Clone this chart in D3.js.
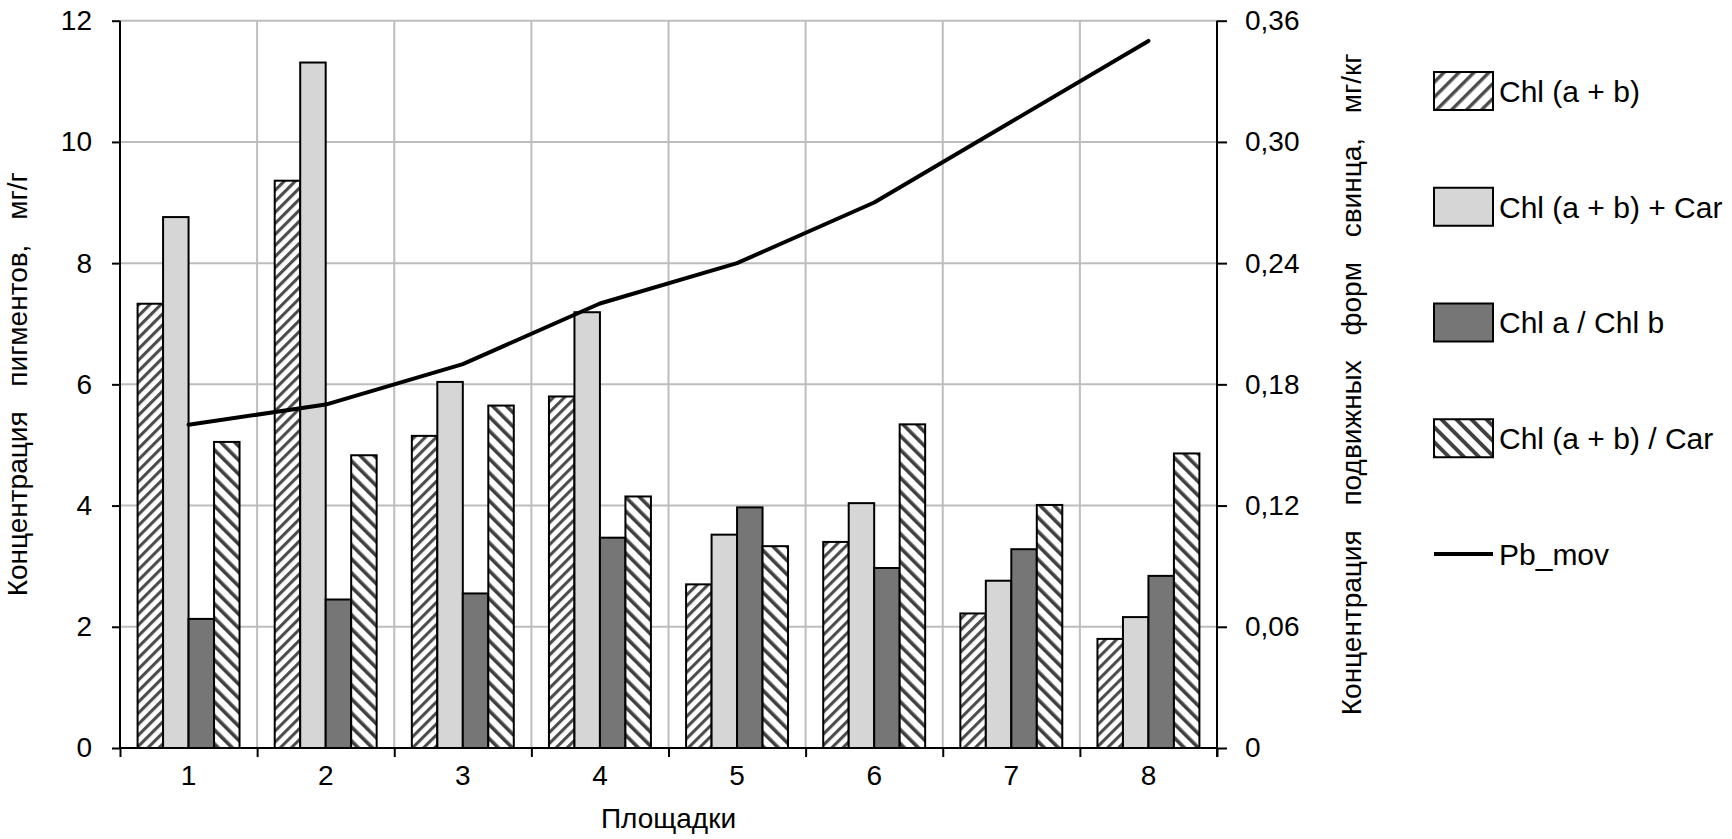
<!DOCTYPE html>
<html>
<head>
<meta charset="utf-8">
<script src="https://cdn.jsdelivr.net/npm/d3@7"></script>
<style>
  html, body { margin: 0; padding: 0; background: #fff; }
  svg { display: block; }
  text { font-family: "Liberation Sans", Arial, sans-serif; fill: #000; }
</style>
</head>
<body>
<svg id="chart" width="1732" height="839"></svg>
<script>
// ---- data ----
const categories = ["1", "2", "3", "4", "5", "6", "7", "8"];
const seriesNames = ["Chl (a + b)", "Chl (a + b) + Car", "Chl a / Chl b", "Chl (a + b) / Car"];
const chlAB      = [7.33, 9.36, 5.15, 5.80, 2.70, 3.40, 2.22, 1.80];
const chlABCar   = [8.76, 11.31, 6.04, 7.19, 3.52, 4.04, 2.76, 2.16];
const chlAtoB    = [2.13, 2.45, 2.55, 3.47, 3.97, 2.97, 3.28, 2.84];
const chlABtoCar = [5.05, 4.83, 5.65, 4.15, 3.33, 5.34, 4.01, 4.86];
const pbMov      = [0.16, 0.17, 0.19, 0.22, 0.24, 0.27, 0.31, 0.35];
const lineName = "Pb_mov";
const leftTicks = [0, 2, 4, 6, 8, 10, 12];
const rightTicks = [0, 0.06, 0.12, 0.18, 0.24, 0.30, 0.36];
const rightTickLabels = ["0", "0,06", "0,12", "0,18", "0,24", "0,30", "0,36"];
const leftTitle = "Концентрация пигментов, мг/г";
const rightTitle = "Концентрация подвижных форм свинца, мг/кг";
const xTitle = "Площадки";

const seriesValues = [chlAB, chlABCar, chlAtoB, chlABtoCar];

// ---- layout ----
const svg = d3.select("#chart");
const P = { l: 120, r: 1217, t: 20.7, b: 748 };

const x = d3.scaleBand().domain(categories).range([P.l, P.r]).paddingInner(0).paddingOuter(0);
const xs = d3.scaleBand().domain(seriesNames).range([0, x.bandwidth()]).paddingInner(0).paddingOuter(0.69);
const yL = d3.scaleLinear().domain([0, 12]).range([P.b, P.t]);
const yR = d3.scaleLinear().domain([0, 0.36]).range([P.b, P.t]);
const xB = d3.scaleLinear().domain([0, categories.length]).range([P.l, P.r]);

// ---- patterns ----
const defs = svg.append("defs");
function stripe(id, period, angle, width, color) {
  const p = defs.append("pattern")
    .attr("id", id)
    .attr("patternUnits", "userSpaceOnUse")
    .attr("width", period).attr("height", period)
    .attr("patternTransform", `rotate(${angle})`);
  p.append("rect").attr("width", period).attr("height", period).attr("fill", "#fff");
  p.append("rect").attr("x", 0).attr("y", 0).attr("width", width).attr("height", period).attr("fill", color);
}
stripe("pAB", 7.8, 45, 3.1, "#4c4c4c");
stripe("pRatio", 9.9, -45, 3.6, "#404040");
stripe("pABLeg", 10.6, 45, 3.4, "#4c4c4c");
stripe("pRatioLeg", 10.6, -45, 3.8, "#404040");

const fills = ["url(#pAB)", "#d6d6d6", "#767676", "url(#pRatio)"];
const legFills = ["url(#pABLeg)", "#d6d6d6", "#767676", "url(#pRatioLeg)"];

// ---- gridlines ----
const grid = svg.append("g");
grid.selectAll(".hg").data(leftTicks.filter(d => d > 0)).join("line")
  .attr("x1", P.l).attr("x2", P.r)
  .attr("y1", d => yL(d)).attr("y2", d => yL(d))
  .attr("stroke", "#bdbdbd").attr("stroke-width", 2);
grid.selectAll(".vg").data(d3.range(1, categories.length)).join("line")
  .attr("x1", d => xB(d)).attr("x2", d => xB(d))
  .attr("y1", P.t).attr("y2", P.b)
  .attr("stroke", "#bdbdbd").attr("stroke-width", 2);

// ---- bars ----
const barG = svg.append("g");
seriesNames.forEach((s, si) => {
  barG.append("g").selectAll("rect").data(seriesValues[si]).join("rect")
    .attr("x", (d, i) => x(categories[i]) + xs(s))
    .attr("y", d => yL(d))
    .attr("width", xs.bandwidth())
    .attr("height", d => yL(0) - yL(d))
    .attr("fill", fills[si])
    .attr("stroke", "#000").attr("stroke-width", 2);
});

// ---- axes ----
const fs = 28;
const axL = svg.append("g").attr("transform", `translate(${P.l},0)`)
  .call(d3.axisLeft(yL).tickValues(leftTicks).tickSize(8).tickPadding(20).tickFormat(d3.format("d")));
const axR = svg.append("g").attr("transform", `translate(${P.r},0)`)
  .call(d3.axisRight(yR).tickValues(rightTicks).tickSize(10).tickPadding(18).tickFormat((d, i) => rightTickLabels[i]));
const axB = svg.append("g").attr("transform", `translate(0,${P.b})`)
  .call(d3.axisBottom(xB).tickValues(d3.range(0, categories.length + 1)).tickSize(9).tickFormat(""));
const axBL = svg.append("g").attr("transform", `translate(0,${P.b})`)
  .call(d3.axisBottom(x).tickSize(0).tickPadding(17));
axBL.select(".domain").remove();

[axL, axR, axB, axBL].forEach(a => {
  a.selectAll("text").attr("font-size", fs).attr("font-family", "Liberation Sans, Arial, sans-serif").attr("fill", "#000");
  a.selectAll("line").attr("stroke", "#000").attr("stroke-width", 2);
  a.selectAll(".domain").attr("stroke", "#000").attr("stroke-width", 2);
});
// plain axis lines (no outer ticks)
axL.select(".domain").attr("d", `M0,${P.t}V${P.b}`);
axR.select(".domain").attr("d", `M0,${P.t}V${P.b + 9}`);
axB.select(".domain").attr("d", `M${P.l},0H${P.r}`);

// ---- line ----
const line = d3.line()
  .x((d, i) => x(categories[i]) + x.bandwidth() / 2)
  .y(d => yR(d));
svg.append("path").datum(pbMov)
  .attr("d", line)
  .attr("fill", "none").attr("stroke", "#000").attr("stroke-width", 4)
  .attr("stroke-linejoin", "round").attr("stroke-linecap", "round");

// ---- titles ----
svg.append("text")
  .attr("transform", `translate(27,${(P.t + P.b) / 2}) rotate(-90)`)
  .attr("text-anchor", "middle").attr("font-size", fs)
  .style("word-spacing", "17px")
  .text(leftTitle);
svg.append("text")
  .attr("transform", `translate(1361,${(P.t + P.b) / 2}) rotate(-90)`)
  .attr("text-anchor", "middle").attr("font-size", fs)
  .style("word-spacing", "17px")
  .text(rightTitle);
svg.append("text")
  .attr("x", (P.l + P.r) / 2).attr("y", 828)
  .attr("text-anchor", "middle").attr("font-size", fs)
  .text(xTitle);

// ---- legend ----
const legNames = seriesNames.concat([lineName]);
const leg = svg.append("g");
const legY = d3.scaleLinear().domain([0, 4]).range([91, 554]);
legNames.forEach((n, i) => {
  const cy = legY(i);
  if (i < 4) {
    leg.append("rect").attr("x", 1434).attr("y", cy - 19).attr("width", 59).attr("height", 38)
      .attr("fill", legFills[i]).attr("stroke", "#000").attr("stroke-width", 2);
  } else {
    leg.append("line").attr("x1", 1434).attr("x2", 1493).attr("y1", cy).attr("y2", cy)
      .attr("stroke", "#000").attr("stroke-width", 4);
  }
  leg.append("text").attr("x", 1499).attr("y", cy).attr("dy", "0.36em")
    .attr("font-size", 30).text(n);
});
</script>
</body>
</html>
